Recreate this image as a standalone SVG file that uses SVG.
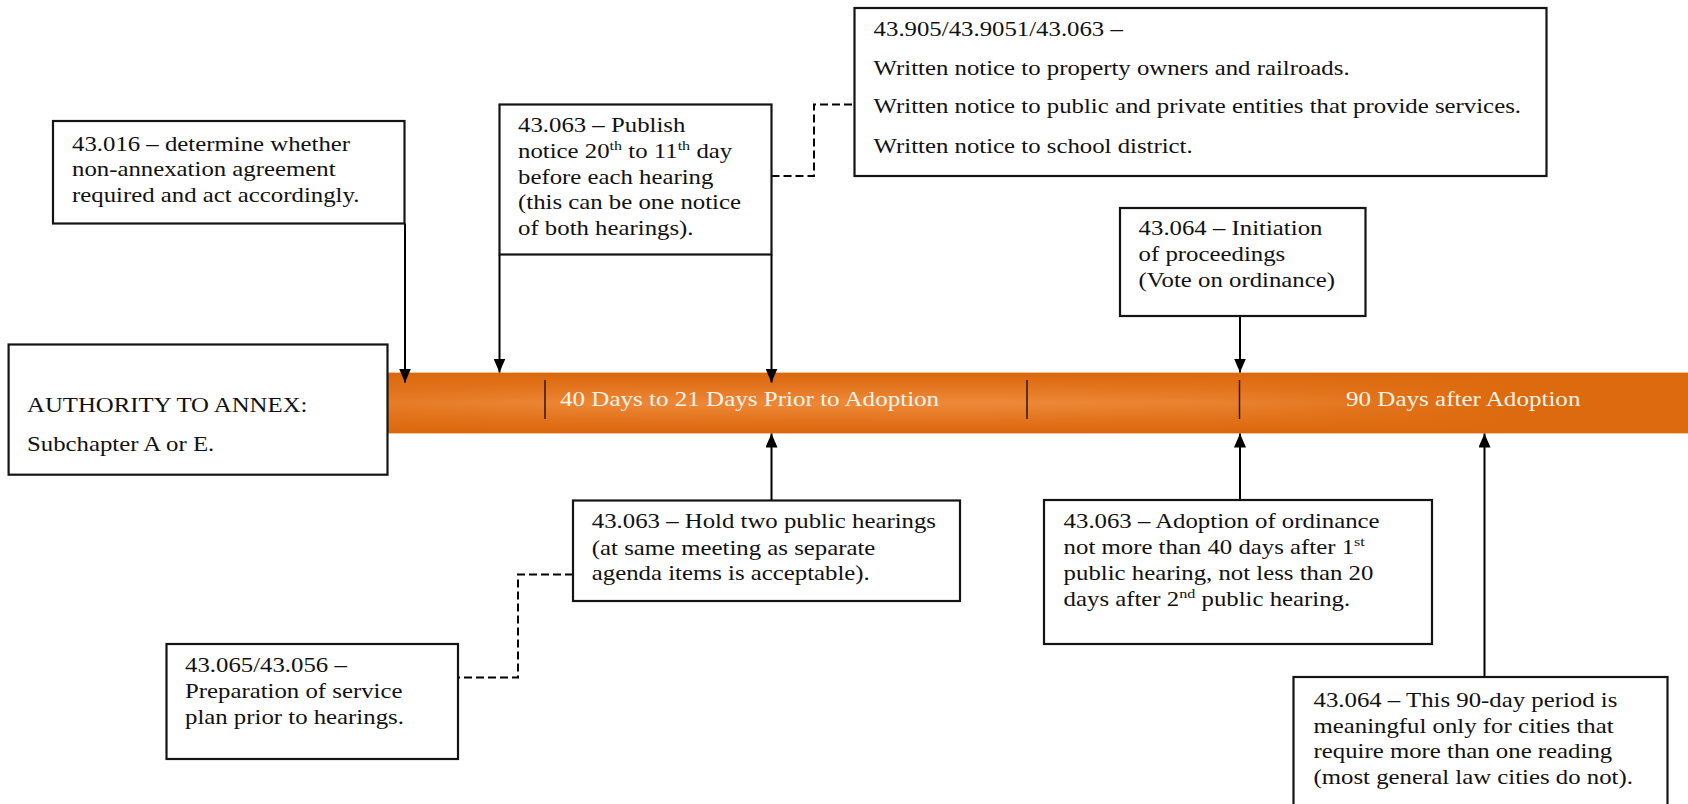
<svg xmlns="http://www.w3.org/2000/svg" width="1688" height="804" viewBox="0 0 1688 804">
  <defs>
    <style>
      .box { fill: #ffffff; stroke: #141414; stroke-width: 2.2; }
      .t { font-family: "Liberation Serif", "Times New Roman", serif; font-size: 20px; fill: #111111; }
      .sup { font-size: 13px; }
      .bar-t { font-family: "Liberation Serif", "Times New Roman", serif; font-size: 20.2px; fill: #FFF4EA; }
      .arrow { stroke: #000000; stroke-width: 2; fill: none; marker-end: url(#head); }
      .dash { stroke: #000000; stroke-width: 2; fill: none; stroke-dasharray: 8 4; }
      .tick { stroke: #2a1a10; stroke-width: 1.5; }
    </style>
    <marker id="head" viewBox="0 0 14 12" refX="14" refY="6" markerWidth="14" markerHeight="12" markerUnits="userSpaceOnUse" orient="auto">
      <path d="M0,0 L14,6 L0,12 Z" fill="#000000"/>
    </marker>
    <linearGradient id="barV" x1="0" y1="0" x2="0" y2="1">
      <stop offset="0" stop-color="#DA660A"/>
      <stop offset="0.22" stop-color="#E3741E"/>
      <stop offset="0.5" stop-color="#EE8A3A"/>
      <stop offset="0.78" stop-color="#E3741E"/>
      <stop offset="1" stop-color="#D9640A"/>
    </linearGradient>
    <linearGradient id="barH" gradientUnits="userSpaceOnUse" x1="388" y1="0" x2="1688" y2="0">
      <stop offset="0" stop-color="#DD6A0E" stop-opacity="0.45"/>
      <stop offset="0.15" stop-color="#DD6A0E" stop-opacity="0.1"/>
      <stop offset="0.45" stop-color="#DD6A0E" stop-opacity="0"/>
      <stop offset="0.66" stop-color="#DD6A0E" stop-opacity="0.3"/>
      <stop offset="0.86" stop-color="#DD6A0E" stop-opacity="1"/>
      <stop offset="1" stop-color="#DD6A0E" stop-opacity="1"/>
    </linearGradient>
  </defs>

  <rect width="1688" height="804" fill="#ffffff"/>

  <!-- timeline bar -->
  <g id="timeline">
    <rect x="387" y="372" width="1301" height="62" fill="url(#barV)"/>
    <rect x="387" y="372" width="1301" height="62" fill="url(#barH)"/>
    <line x1="387" y1="372.5" x2="1688" y2="372.5" stroke="#F4C49A" stroke-width="1"/>
    <line x1="387" y1="433.5" x2="1688" y2="433.5" stroke="#F4C49A" stroke-width="1"/>
    <line class="tick" x1="545" y1="380" x2="545" y2="419"/>
    <line class="tick" x1="1027" y1="380" x2="1027" y2="419"/>
    <line class="tick" x1="1239.5" y1="380" x2="1239.5" y2="419"/>
    <text class="bar-t" transform="translate(560,0) scale(1.24,1)" x="0" y="406">40 Days to 21 Days Prior to Adoption</text>
    <text class="bar-t" transform="translate(1346,0) scale(1.24,1)" x="0" y="406">90 Days after Adoption</text>
  </g>

  <!-- connectors -->
  <g id="connectors">
    <path class="arrow" d="M405,223.5 V382.5"/>
    <path class="arrow" d="M499.5,254.5 V372.5"/>
    <path class="arrow" d="M771.5,254.5 V382.5"/>
    <path class="arrow" d="M1240,316 V372.5"/>
    <path class="arrow" d="M771.5,500.5 V433.5"/>
    <path class="arrow" d="M1240,500 V433.5"/>
    <path class="arrow" d="M1484.5,677 V433.5"/>
    <path class="dash" d="M771.5,176 H814 V104.5 H854.5"/>
    <path class="dash" d="M573,574.5 H518 V677.5 H458"/>
  </g>

  <g id="authority">
    <rect class="box" x="8.6" y="344.5" width="378.9" height="130.2"/>
    <text class="t" transform="translate(27,0) scale(1.24,1)">
      <tspan x="0" y="411.7">AUTHORITY TO ANNEX:</tspan>
      <tspan x="0" y="450.7">Subchapter A or E.</tspan>
    </text>
  </g>

  <g id="non-annexation">
    <rect class="box" x="53" y="121" width="351.5" height="102.5"/>
    <text class="t" transform="translate(72,0) scale(1.24,1)">
      <tspan x="0" y="151">43.016 – determine whether</tspan>
      <tspan x="0" y="176.5">non-annexation agreement</tspan>
      <tspan x="0" y="202">required and act accordingly.</tspan>
    </text>
  </g>

  <g id="publish-notice">
    <rect class="box" x="499.5" y="104.5" width="272" height="150"/>
    <text class="t" transform="translate(518,0) scale(1.24,1)">
      <tspan x="0" y="131.7">43.063 – Publish</tspan>
      <tspan x="0" y="158.3">notice 20<tspan class="sup" dy="-8">th</tspan><tspan dy="8"> to 11</tspan><tspan class="sup" dy="-8">th</tspan><tspan dy="8"> day</tspan></tspan>
      <tspan x="0" y="184">before each hearing</tspan>
      <tspan x="0" y="209.5">(this can be one notice</tspan>
      <tspan x="0" y="235">of both hearings).</tspan>
    </text>
  </g>

  <g id="written-notice">
    <rect class="box" x="854.5" y="8" width="692" height="168"/>
    <text class="t" transform="translate(873.6,0) scale(1.24,1)">
      <tspan x="0" y="35.7">43.905/43.9051/43.063 –</tspan>
      <tspan x="0" y="75">Written notice to property owners and railroads.</tspan>
      <tspan x="0" y="113.5">Written notice to public and private entities that provide services.</tspan>
      <tspan x="0" y="153">Written notice to school district.</tspan>
    </text>
  </g>

  <g id="initiation">
    <rect class="box" x="1120" y="208" width="245.5" height="108"/>
    <text class="t" transform="translate(1138.6,0) scale(1.24,1)">
      <tspan x="0" y="235">43.064 – Initiation</tspan>
      <tspan x="0" y="261">of proceedings</tspan>
      <tspan x="0" y="286.7">(Vote on ordinance)</tspan>
    </text>
  </g>

  <g id="public-hearings">
    <rect class="box" x="573" y="500.5" width="387" height="100.5"/>
    <text class="t" transform="translate(591.8,0) scale(1.24,1)">
      <tspan x="0" y="528.3">43.063 – Hold two public hearings</tspan>
      <tspan x="0" y="555">(at same meeting as separate</tspan>
      <tspan x="0" y="580.5">agenda items is acceptable).</tspan>
    </text>
  </g>

  <g id="service-plan">
    <rect class="box" x="166.5" y="644" width="291.5" height="115"/>
    <text class="t" transform="translate(185,0) scale(1.24,1)">
      <tspan x="0" y="672.3">43.065/43.056 –</tspan>
      <tspan x="0" y="698.3">Preparation of service</tspan>
      <tspan x="0" y="724.3">plan prior to hearings.</tspan>
    </text>
  </g>

  <g id="adoption">
    <rect class="box" x="1044" y="500" width="388" height="144"/>
    <text class="t" transform="translate(1063.6,0) scale(1.24,1)">
      <tspan x="0" y="528.3">43.063 – Adoption of ordinance</tspan>
      <tspan x="0" y="554.3">not more than 40 days after 1<tspan class="sup" dy="-8">st</tspan></tspan>
      <tspan x="0" y="580">public hearing, not less than 20</tspan>
      <tspan x="0" y="605.7">days after 2<tspan class="sup" dy="-8">nd</tspan><tspan dy="8"> public hearing.</tspan></tspan>
    </text>
  </g>

  <g id="ninety-day">
    <rect class="box" x="1293.5" y="677" width="374" height="150"/>
    <text class="t" transform="translate(1313.5,0) scale(1.24,1)">
      <tspan x="0" y="707">43.064 – This 90-day period is</tspan>
      <tspan x="0" y="733">meaningful only for cities that</tspan>
      <tspan x="0" y="758.5">require more than one reading</tspan>
      <tspan x="0" y="784">(most general law cities do not).</tspan>
    </text>
  </g>
</svg>
